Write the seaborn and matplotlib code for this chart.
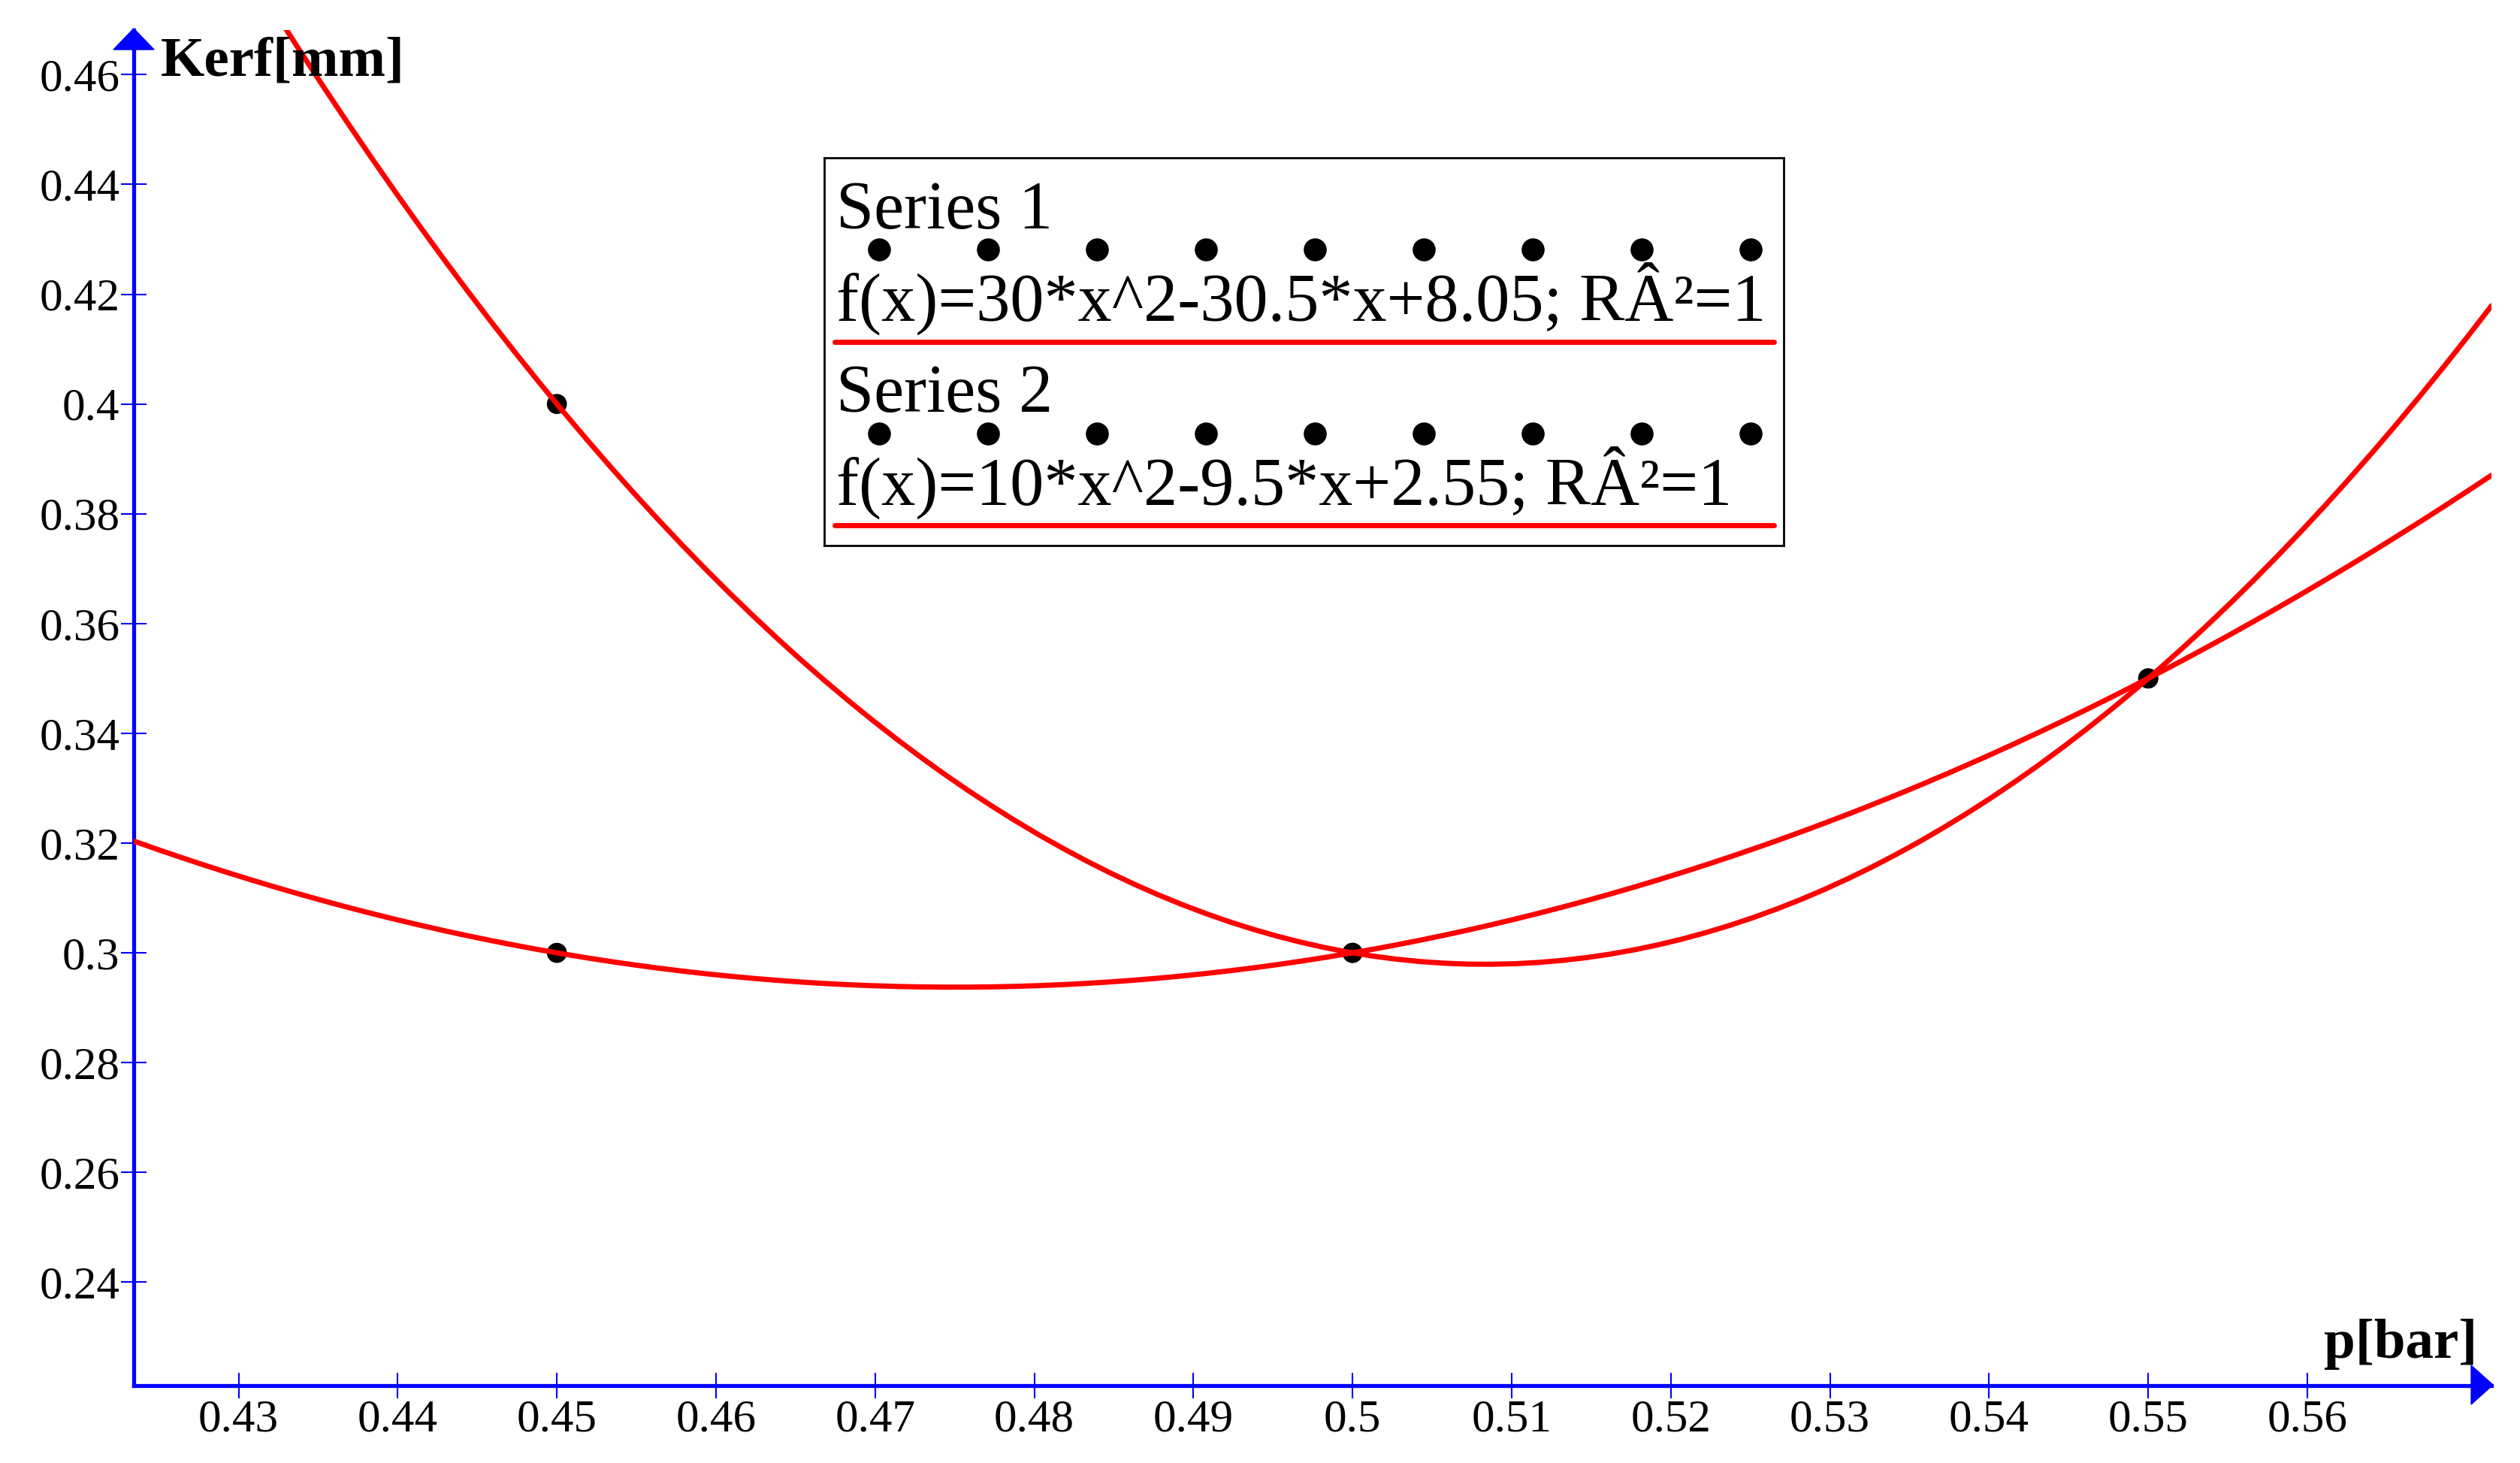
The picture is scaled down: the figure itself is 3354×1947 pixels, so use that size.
import numpy as np
import matplotlib
matplotlib.use('Agg')
import matplotlib.pyplot as plt
import seaborn as sns
from matplotlib.patches import Polygon
from matplotlib.ticker import FormatStrFormatter

# Measured points: pressure p [bar] vs kerf width [mm]
p_s1 = [0.45, 0.50, 0.55]
kerf_s1 = [0.40, 0.30, 0.35]
p_s2 = [0.45, 0.50, 0.55]
kerf_s2 = [0.30, 0.30, 0.35]

series_names = ['Series 1', 'Series 2']
fit_labels = ['f(x)=30*x^2-30.5*x+8.05; RÂ²=1',
              'f(x)=10*x^2-9.5*x+2.55; RÂ²=1']

x_ticks = [0.43, 0.44, 0.45, 0.46, 0.47, 0.48, 0.49, 0.50, 0.51, 0.52, 0.53, 0.54, 0.55, 0.56]
y_ticks = [0.24, 0.26, 0.28, 0.30, 0.32, 0.34, 0.36, 0.38, 0.40, 0.42, 0.44, 0.46]

sns.set_style('white')
plt.rcParams['font.family'] = ['Liberation Serif', 'DejaVu Serif']
plt.rcParams['text.color'] = 'black'

W, H = 3354, 1947
fig = plt.figure(figsize=(W / 100, H / 100), dpi=100)
ax = fig.add_axes([178 / W, 1 - 1844 / H, (3316 - 178) / W, (1844 - 40) / H])
xlim = (0.42341, 0.57157)
ylim = (0.22116, 0.46812)
ax.set_xlim(*xlim)
ax.set_ylim(*ylim)

# quadratic fits through the points (seaborn regplot, order 2, over full x range)
for px, ky in [(p_s1, kerf_s1), (p_s2, kerf_s2)]:
    sns.regplot(x=px, y=ky, order=2, ci=None, truncate=False, scatter=False, ax=ax,
                line_kws=dict(color='red', lw=5, zorder=3))

sns.scatterplot(x=p_s1 + p_s2, y=kerf_s1 + kerf_s2, color='black', s=370,
                edgecolor='none', zorder=2, ax=ax)

ax.set_xlim(*xlim)
ax.set_ylim(*ylim)
ax.set_xlabel('')
ax.set_ylabel('')
ax.set_xticks(x_ticks)
ax.set_yticks(y_ticks)
ax.xaxis.set_major_formatter(FormatStrFormatter('%g'))
ax.yaxis.set_major_formatter(FormatStrFormatter('%g'))
ax.tick_params(direction='inout', length=24.5, width=1.5, color='blue',
               labelsize=44, pad=1, labelcolor='black',
               bottom=True, left=True)
for s in ['top', 'right']:
    ax.spines[s].set_visible(False)
for s in ['left', 'bottom']:
    ax.spines[s].set_color('blue')
    ax.spines[s].set_linewidth(3.8)

# arrow heads on the axes
def px2fig(pts):
    return [(x / W, 1 - y / H) for x, y in pts]

fig.add_artist(Polygon(px2fig([(178, 38), (151, 66), (205, 66)]), closed=True,
                       color='blue', transform=fig.transFigure))
fig.add_artist(Polygon(px2fig([(3318, 1843), (3289, 1817), (3289, 1869)]), closed=True,
                       color='blue', transform=fig.transFigure))

# axis titles
fig.text(214 / W, 1 - 100 / H, 'Kerf[mm]', fontsize=54, fontweight='bold',
         va='baseline', color='black')
fig.text(3093 / W, 1 - 1807 / H, 'p[bar]', fontsize=54, fontweight='bold',
         va='baseline', color='black')

# legend box
lax = fig.add_axes([1097 / W, 1 - 726 / H, (2374 - 1097) / W, (726 - 210) / H])
lax.set_xlim(1097, 2374)
lax.set_ylim(726, 210)
lax.set_xticks([])
lax.set_yticks([])
lax.set_facecolor('white')
for s in lax.spines.values():
    s.set_color('black')
    s.set_linewidth(2)

rows = [(304, 332, 427, 455), (548, 577, 672, 699)]
for name, lab, (y_name, y_dots, y_lab, y_line) in zip(series_names, fit_labels, rows):
    lax.text(1113, y_name, name, fontsize=65, va='baseline', color='black')
    lax.plot(np.linspace(1170, 2330, 9), [y_dots] * 9, ls='', marker='o',
             color='black', ms=21)
    lax.text(1113, y_lab, lab, fontsize=65, va='baseline', color='black')
    lax.plot([1111, 2361], [y_line, y_line], color='red', lw=5)

fig.savefig('out.png', dpi=100)
